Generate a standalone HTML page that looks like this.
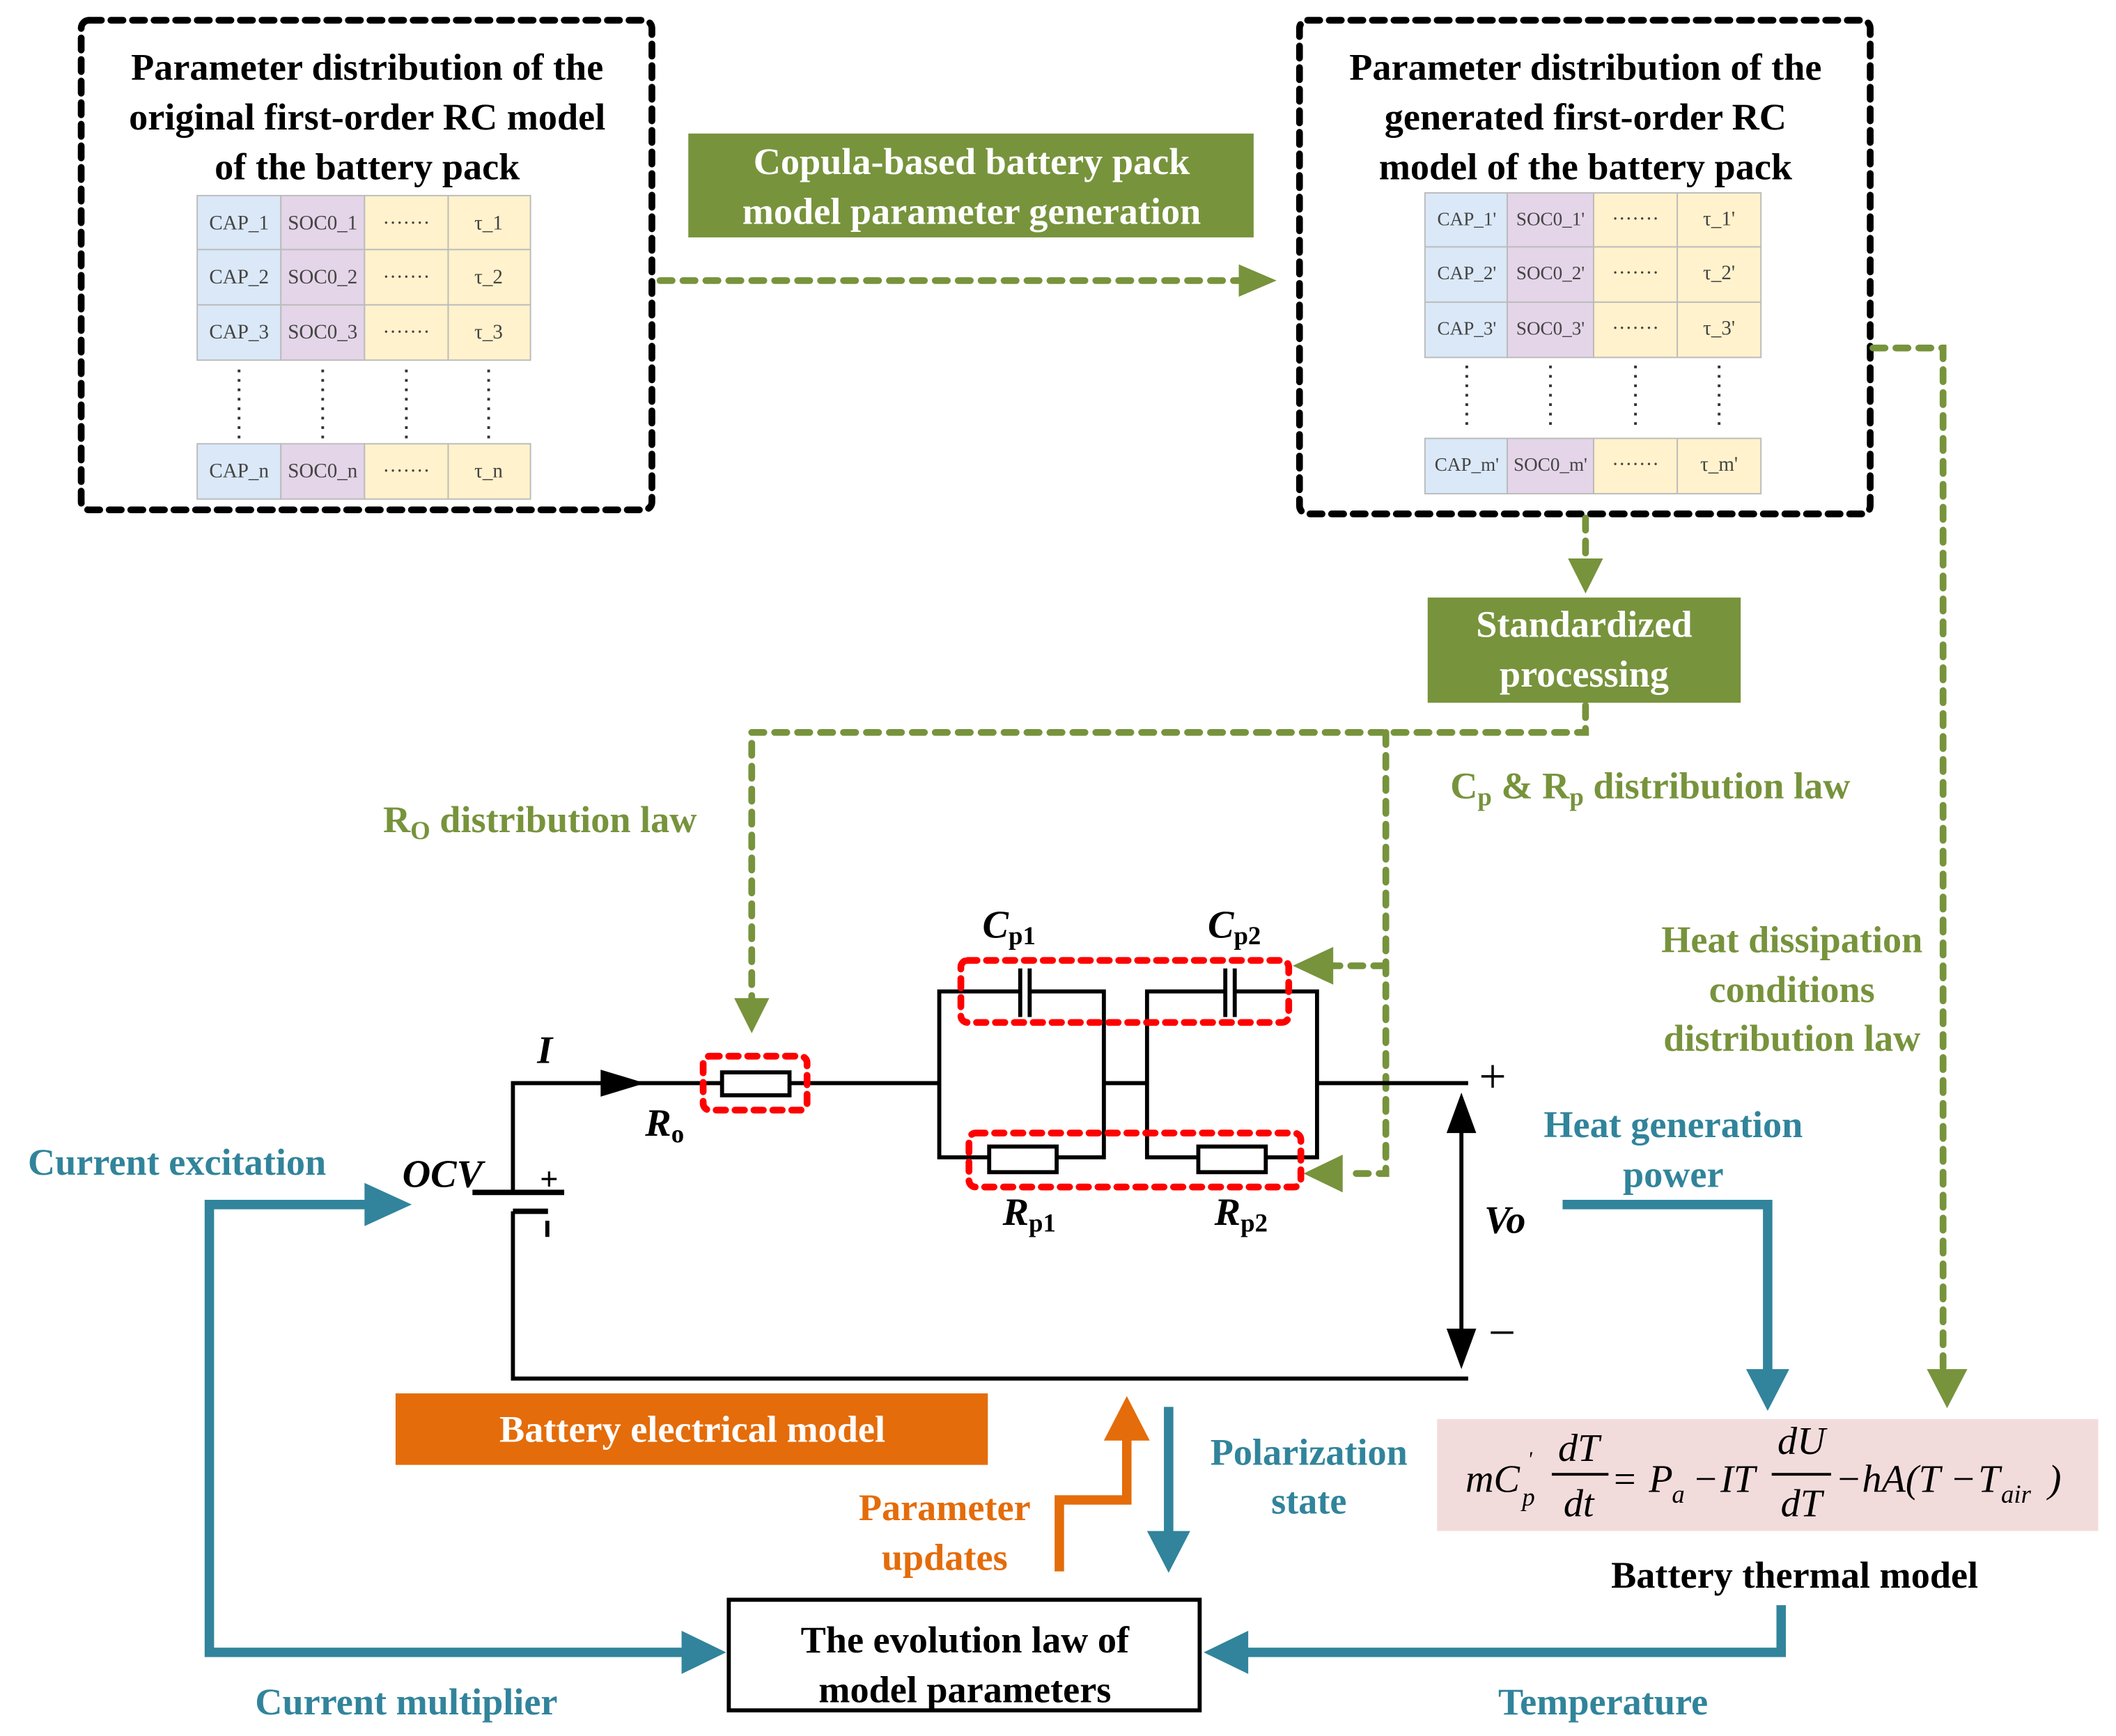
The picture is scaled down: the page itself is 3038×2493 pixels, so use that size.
<!DOCTYPE html>
<html><head><meta charset="utf-8"><style>
html,body{margin:0;padding:0;background:#fff;}
svg{display:block;}
text{font-family:"Liberation Serif",serif;}
.t{font-weight:bold;font-size:28px;text-anchor:middle;}
.cell{font-size:15px;text-anchor:middle;fill:#444;}
.g{fill:#77933c;} .b{fill:#31849b;} .o{fill:#e46c0a;}
.eq{font-style:italic;font-size:29px;}
</style></head><body>
<svg width="3038" height="2493" viewBox="0 0 1568 1287" xmlns="http://www.w3.org/2000/svg">
<rect width="1568" height="1287" fill="#fff"/>
<rect x="60" y="15" width="423" height="363" rx="6" fill="none" stroke="#000" stroke-width="5" stroke-dasharray="9 7" stroke-linecap="round"/>
<text class="t" x="272" y="59">Parameter distribution of the</text>
<text class="t" x="272" y="96">original first-order RC model</text>
<text class="t" x="272" y="133">of the battery pack</text>
<g stroke="#bbb" stroke-width="1">
<rect x="146" y="145" width="62" height="122" fill="#dae8f8"/>
<rect x="208" y="145" width="62" height="122" fill="#e4d5e8"/>
<rect x="270" y="145" width="123" height="122" fill="#fff2cc"/>
<line x1="146" y1="185" x2="393" y2="185"/><line x1="146" y1="226" x2="393" y2="226"/><line x1="332" y1="145" x2="332" y2="267"/>
<rect x="146" y="329" width="62" height="41" fill="#dae8f8"/>
<rect x="208" y="329" width="62" height="41" fill="#e4d5e8"/>
<rect x="270" y="329" width="123" height="41" fill="#fff2cc"/>
<line x1="332" y1="329" x2="332" y2="370"/>
</g>
<g stroke="#333" stroke-width="2" stroke-dasharray="2 5">
<line x1="177" y1="274" x2="177" y2="325"/><line x1="239" y1="274" x2="239" y2="325"/><line x1="301" y1="274" x2="301" y2="325"/><line x1="362" y1="274" x2="362" y2="325"/>
</g>
<text class="cell" x="177" y="170">CAP_1</text><text class="cell" x="239" y="170">SOC0_1</text><text class="cell" x="301" y="170">·······</text><text class="cell" x="362" y="170">τ_1</text>
<text class="cell" x="177" y="210">CAP_2</text><text class="cell" x="239" y="210">SOC0_2</text><text class="cell" x="301" y="210">·······</text><text class="cell" x="362" y="210">τ_2</text>
<text class="cell" x="177" y="251">CAP_3</text><text class="cell" x="239" y="251">SOC0_3</text><text class="cell" x="301" y="251">·······</text><text class="cell" x="362" y="251">τ_3</text>
<text class="cell" x="177" y="354">CAP_n</text><text class="cell" x="239" y="354">SOC0_n</text><text class="cell" x="301" y="354">·······</text><text class="cell" x="362" y="354">τ_n</text>
<rect x="963" y="15" width="423" height="366" rx="6" fill="none" stroke="#000" stroke-width="5" stroke-dasharray="9 7" stroke-linecap="round"/>
<text class="t" x="1175" y="59">Parameter distribution of the</text>
<text class="t" x="1175" y="96">generated first-order RC</text>
<text class="t" x="1175" y="133">model of the battery pack</text>
<g stroke="#bbb" stroke-width="1">
<rect x="1056" y="143" width="61" height="122" fill="#dae8f8"/>
<rect x="1117" y="143" width="64" height="122" fill="#e4d5e8"/>
<rect x="1181" y="143" width="124" height="122" fill="#fff2cc"/>
<line x1="1056" y1="183" x2="1305" y2="183"/><line x1="1056" y1="224" x2="1305" y2="224"/><line x1="1243" y1="143" x2="1243" y2="265"/>
<rect x="1056" y="325" width="61" height="41" fill="#dae8f8"/>
<rect x="1117" y="325" width="64" height="41" fill="#e4d5e8"/>
<rect x="1181" y="325" width="124" height="41" fill="#fff2cc"/>
<line x1="1243" y1="325" x2="1243" y2="366"/>
</g>
<g stroke="#333" stroke-width="2" stroke-dasharray="2 5">
<line x1="1087" y1="271" x2="1087" y2="320"/><line x1="1149" y1="271" x2="1149" y2="320"/><line x1="1212" y1="271" x2="1212" y2="320"/><line x1="1274" y1="271" x2="1274" y2="320"/>
</g>
<text class="cell" x="1087" y="167" style="font-size:14px">CAP_1'</text><text class="cell" x="1149" y="167" style="font-size:14px">SOC0_1'</text><text class="cell" x="1212" y="167">·······</text><text class="cell" x="1274" y="167">τ_1'</text>
<text class="cell" x="1087" y="207" style="font-size:14px">CAP_2'</text><text class="cell" x="1149" y="207" style="font-size:14px">SOC0_2'</text><text class="cell" x="1212" y="207">·······</text><text class="cell" x="1274" y="207">τ_2'</text>
<text class="cell" x="1087" y="248" style="font-size:14px">CAP_3'</text><text class="cell" x="1149" y="248" style="font-size:14px">SOC0_3'</text><text class="cell" x="1212" y="248">·······</text><text class="cell" x="1274" y="248">τ_3'</text>
<text class="cell" x="1087" y="349" style="font-size:14px">CAP_m'</text><text class="cell" x="1149" y="349" style="font-size:14px">SOC0_m'</text><text class="cell" x="1212" y="349">·······</text><text class="cell" x="1274" y="349">τ_m'</text>
<rect x="510" y="99" width="419" height="77" fill="#77933c"/>
<text class="t" x="720" y="129" fill="#fff">Copula-based battery pack</text>
<text class="t" x="720" y="166" fill="#fff">model parameter generation</text>
<rect x="1058" y="443" width="232" height="78" fill="#77933c"/>
<text class="t" x="1174" y="472" fill="#fff">Standardized</text>
<text class="t" x="1174" y="509" fill="#fff">processing</text>
<g fill="none" stroke="#77933c" stroke-width="5" stroke-dasharray="9 8" stroke-linecap="round">
<line x1="489" y1="208" x2="918" y2="208"/>
<polyline points="1388,258 1440,258 1440,1015"/>
<line x1="1175" y1="384" x2="1175" y2="414"/>
<polyline points="1175,523 1175,543 557,543 557,740"/>
<polyline points="1027,543 1027,870 997,870"/>
<line x1="1027" y1="716" x2="988" y2="716"/>
</g>
<g fill="#77933c">
<polygon points="918,196 946,208 918,220"/>
<polygon points="1428,1015 1458,1015 1443,1044"/>
<polygon points="1162,414 1188,414 1175,440"/>
<polygon points="544,740 570,740 557,766"/>
<polygon points="988,702 988,730 958,716"/>
<polygon points="995,856 995,884 966,870"/>
</g>
<text class="t g" x="400" y="617">R<tspan font-size="19" dy="5">O</tspan><tspan dy="-5"> distribution law</tspan></text>
<text class="t g" x="1223" y="592">C<tspan font-size="19" dy="5">p</tspan><tspan dy="-5"> &amp; R</tspan><tspan font-size="19" dy="5">p</tspan><tspan dy="-5"> distribution law</tspan></text>
<text class="t g" x="1328" y="706">Heat dissipation</text>
<text class="t g" x="1328" y="743">conditions</text>
<text class="t g" x="1328" y="779">distribution law</text>
<g fill="none" stroke="#000" stroke-width="3">
<polyline points="380,884 380,803 535,803"/>
<line x1="585" y1="803" x2="696" y2="803"/>
<polyline points="380,898 380,1022 1088,1022"/>
<line x1="976" y1="803" x2="1088" y2="803"/>
<line x1="818" y1="803" x2="850" y2="803"/>
<rect x="535" y="795" width="50" height="17" fill="#fff"/>
<polyline points="756,735 696,735 696,858 733,858"/>
<polyline points="763,735 818,735 818,858 783,858"/>
<rect x="733" y="850" width="50" height="19" fill="#fff"/>
<polyline points="908,735 850,735 850,858 888,858"/>
<polyline points="915,735 976,735 976,858 938,858"/>
<rect x="888" y="850" width="50" height="19" fill="#fff"/>
<line x1="756" y1="718" x2="756" y2="754"/><line x1="763" y1="718" x2="763" y2="754"/>
<line x1="908" y1="718" x2="908" y2="754"/><line x1="915" y1="718" x2="915" y2="754"/>
<line x1="1083" y1="835" x2="1083" y2="990"/>
</g>
<rect x="350" y="882" width="68" height="4" fill="#000"/>
<rect x="380" y="896" width="26" height="4" fill="#000"/>
<polygon points="445,793 478,803 445,813" fill="#000"/>
<polygon points="1072,840 1083,810 1094,840" fill="#000"/>
<polygon points="1072,985 1083,1015 1094,985" fill="#000"/>
<g fill="none" stroke="#f00" stroke-width="5" stroke-dasharray="7 7" stroke-linecap="round">
<rect x="521" y="783" width="77" height="40" rx="5"/>
<rect x="712" y="712" width="243" height="46" rx="5"/>
<rect x="718" y="840" width="246" height="40" rx="5"/>
</g>
<g style="font-weight:bold;font-style:italic;font-size:29px">
<text x="398" y="788">I</text>
<text x="478" y="842">R<tspan font-size="19" font-style="normal" dy="5">o</tspan></text>
<text x="298" y="880">OCV</text>
<text x="728" y="695">C<tspan font-size="19" font-style="normal" dy="5">p1</tspan></text>
<text x="895" y="695">C<tspan font-size="19" font-style="normal" dy="5">p2</tspan></text>
<text x="743" y="908">R<tspan font-size="19" font-style="normal" dy="5">p1</tspan></text>
<text x="900" y="908">R<tspan font-size="19" font-style="normal" dy="5">p2</tspan></text>
<text x="1100" y="914">Vo</text>
</g>
<text x="400" y="882" style="font-weight:bold;font-size:24px">+</text>
<rect x="404" y="905" width="3" height="12" fill="#000"/>
<text x="1096" y="810" style="font-size:36px">+</text>
<text x="1103" y="1000" style="font-size:36px">−</text>
<rect x="293" y="1033" width="439" height="53" fill="#e46c0a"/>
<text class="t" x="513" y="1069" fill="#fff">Battery electrical model</text>
<polyline points="785,1165 785,1112 835,1112 835,1066" fill="none" stroke="#e46c0a" stroke-width="7"/>
<polygon points="818,1068 852,1068 835,1035" fill="#e46c0a"/>
<text class="t o" x="700" y="1127">Parameter</text>
<text class="t o" x="700" y="1164">updates</text>
<g fill="none" stroke="#31849b" stroke-width="7">
<polyline points="272,893 155,893 155,1225 507,1225"/>
<polyline points="1158,893 1310,893 1310,1017"/>
<polyline points="1320,1190 1320,1225 923,1225"/>
<line x1="866" y1="1043" x2="866" y2="1137"/>
</g>
<g fill="#31849b">
<polygon points="270,877 305,893 270,909"/>
<polygon points="505,1209 538,1225 505,1241"/>
<polygon points="1294,1015 1326,1015 1310,1046"/>
<polygon points="925,1209 892,1225 925,1241"/>
<polygon points="850,1135 882,1135 866,1166"/>
</g>
<text class="t b" x="131" y="871">Current excitation</text>
<text class="t b" x="301" y="1271">Current multiplier</text>
<text class="t b" x="1240" y="843">Heat generation</text>
<text class="t b" x="1240" y="880">power</text>
<text class="t b" x="1188" y="1271">Temperature</text>
<text class="t b" x="970" y="1086">Polarization</text>
<text class="t b" x="970" y="1122">state</text>
<rect x="540" y="1186" width="349" height="82" fill="#fff" stroke="#000" stroke-width="3"/>
<text class="t" x="715" y="1225">The evolution law of</text>
<text class="t" x="715" y="1262">model parameters</text>
<rect x="1065" y="1052" width="490" height="83" fill="#f2dcdb"/>
<g class="eq">
<text x="1086" y="1106">mC</text>
<text x="1132" y="1087" style="font-size:16px">'</text>
<text x="1128" y="1116" style="font-size:19px">p</text>
<text x="1170" y="1083" text-anchor="middle">dT</text>
<line x1="1150" y1="1093" x2="1192" y2="1093" stroke="#000" stroke-width="2"/>
<text x="1170" y="1124" text-anchor="middle">dt</text>
<text x="1196" y="1106" font-style="normal">=</text>
<text x="1222" y="1106">P</text>
<text x="1239" y="1114" style="font-size:19px">a</text>
<text x="1256" y="1106" font-style="normal">−</text>
<text x="1275" y="1106">IT</text>
<text x="1335" y="1078" text-anchor="middle">dU</text>
<line x1="1313" y1="1093" x2="1357" y2="1093" stroke="#000" stroke-width="2"/>
<text x="1335" y="1124" text-anchor="middle">dT</text>
<text x="1362" y="1106" font-style="normal">−</text>
<text x="1380" y="1106">hA(T</text>
<text x="1447" y="1106" font-style="normal">−</text>
<text x="1466" y="1106">T</text>
<text x="1483" y="1114" style="font-size:19px">air</text>
<text x="1518" y="1106">)</text>
</g>
<text class="t" x="1330" y="1177">Battery thermal model</text>
</svg>
</body></html>
